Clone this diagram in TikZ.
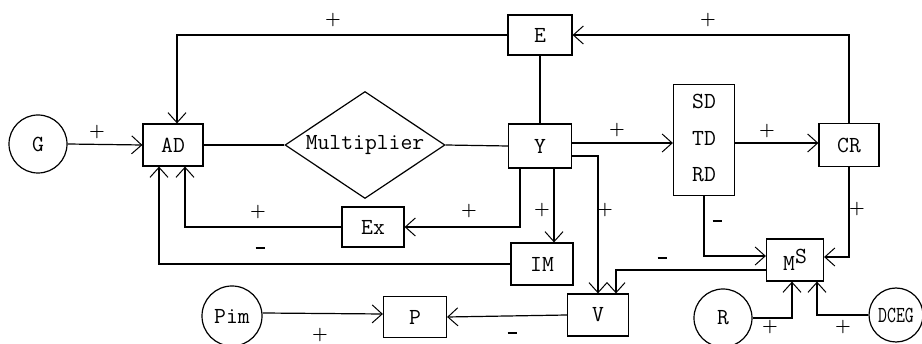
\documentclass[tikz,border=0pt]{standalone}
\usetikzlibrary{arrows.meta,calc,shapes.geometric}
\newcommand{\msign}{\rule[0pt]{9pt}{2pt}}
\begin{document}
\begin{tikzpicture}[x=1pt,y=-1pt,
  every node/.style={font=\fontsize{23}{25}\selectfont\ttfamily},
  box/.style={draw,line width=1.2pt,inner sep=0pt,minimum width=62pt,minimum height=42pt},
  circ/.style={draw,line width=1.2pt,circle,inner sep=0pt,minimum size=58pt},
  ln/.style={line width=1.2pt},
  arr/.style={line width=1.2pt,-{Straight Barb[length=10pt,width=18pt,line width=1pt]}},
  sign/.style={font=\fontsize{18}{18}\selectfont\rmfamily\bfseries,inner sep=0pt}]
\useasboundingbox (0,0) rectangle (922,344);
% nodes
\node[circ] (G) at (38,144) {G};
\node[box,minimum width=60pt] (AD) at (173,145) {AD};
\node[draw,line width=1.2pt,diamond,inner sep=0pt,minimum width=160pt,minimum height=107pt,aspect=1.5] (mult) at (365,145) {Multiplier};
\node[box,minimum width=63pt,minimum height=44pt] (Y) at (540,146) {Y};
\node[box,minimum width=64pt,minimum height=40pt] (E) at (540,35) {E};
\node[box,minimum width=61pt,minimum height=111pt] (sd) at (704,140) {};
\node (sdt) at (704,101) {SD};
\node (tdt) at (704,138) {TD};
\node (rdt) at (704,175) {RD};
\node[box,minimum width=60pt,minimum height=43pt] (CR) at (849,145) {CR};
\node[box,minimum width=57pt,minimum height=42pt] (MS) at (795,260) {M\raisebox{7pt}{S}};
\node[box,minimum height=40pt] (Ex) at (373,227) {Ex};
\node[box] (IM) at (542,264) {IM};
\node[box,minimum width=61pt] (V) at (598,315) {V};
\node[box,minimum width=63pt,minimum height=41pt] (P) at (415,317) {P};
\node[circ,minimum size=60pt] (Pim) at (232,316) {Pim};
\node[circ] (R) at (723,318) {R};
\node[circ,minimum size=54pt] (DCEG) at (896,315) {\scalebox{0.75}[1]{DCEG}};
% connectors
\draw[arr] (G.east) -- (AD.west);
\draw[ln] (AD.east) -- (mult.west);
\draw[ln] (mult.east) -- (Y.west);
\draw[ln] (E.south) -- (Y.north);
\draw[arr] (CR.north) |- (E.east);
\draw[arr] (E.west) -| ($(AD.north)+(4,0)$);
\draw[arr] ($(Y.east)+(0,-3)$) -- ($(Y.east -| sd.west)+(0,-3)$);
\draw[arr] ($(CR.west -| sd.east)+(0,-2)$) -- ($(CR.west)+(0,-2)$);
\draw[arr] (CR.south) |- ($(MS.east)+(0,-3)$);
\draw[arr] (sd.south) |- ($(MS.west)+(0,-4)$);
\draw[arr] ($(MS.west)+(0,10)$) -| ($(V.north)+(18,0)$);
\draw[arr] ($(Y.east)+(0,10)$) -| (V.north);
\draw[arr] ($(Y.south)+(14,0)$) -- ($(IM.north)+(12,0)$);
\draw[arr] ($(Y.south)+(-20,0)$) |- (Ex.east);
\draw[arr] (Ex.west) -| ($(AD.south)+(12,0)$);
\draw[arr] (IM.west) -| ($(AD.south)+(-14,0)$);
\draw[arr] (V.west) -- (P.east);
\draw[arr] ($(Pim.east)+(0,-3)$) -- ($(P.west)+(0,-3)$);
\draw[arr] (R.east) -| ($(MS.south)+(-3,0)$);
\draw[arr] (DCEG.west) -| ($(MS.south)+(22,0)$);
% signs
\node[sign] (s1) at (97,132) {+};
\node[sign] (s2) at (333,20) {+};
\node[sign] (s3) at (708,20) {+};
\node[sign] (s4) at (617,130) {+};
\node[sign] (s5) at (767,131) {+};
\node[sign] (s6) at (857,209) {+};
\node[sign] (s7) at (717,221) {\msign};
\node[sign] (s8) at (662,258) {\msign};
\node[sign] (s9) at (605,210) {+};
\node[sign] (s10) at (542,210) {+};
\node[sign] (s11) at (469,211) {+};
\node[sign] (s12) at (258,212) {+};
\node[sign] (s13) at (260,248) {\msign};
\node[sign] (s14) at (512,333) {\msign};
\node[sign] (s15) at (320,335) {+};
\node[sign] (s16) at (770,327) {+};
\node[sign] (s17) at (843,327) {+};
\end{tikzpicture}
\end{document}
